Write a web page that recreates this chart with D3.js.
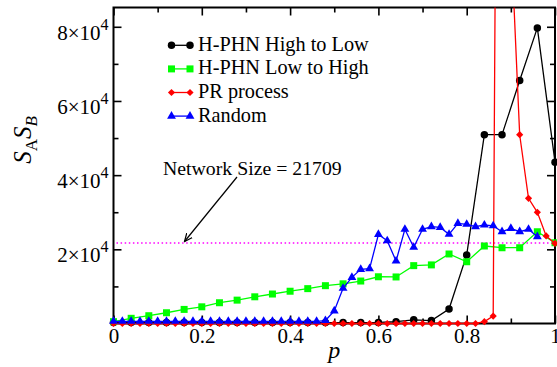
<!DOCTYPE html>
<html>
<head>
<meta charset="utf-8">
<script src="https://cdn.jsdelivr.net/npm/d3@7"></script>
<style>
    body{margin:0;background:#fff;}
    svg{display:block;font-family:"Liberation Serif","Times New Roman",serif;}
    .axis path{display:none;}
    .axis line{stroke:#000;stroke-width:1.6;}
</style>
</head>
<body>
<div id="vizHolder"></div>
<script>
// p values (two sampling grids used by the runs)
const pCoarse = [0,0.04,0.08,0.12,0.16,0.2,0.24,0.28,0.32,0.36,0.4,0.44,0.48,0.52,0.56,0.6,0.64,0.68,0.72,0.76,0.8,0.84,0.88,0.92,0.96,1.0];
const pFine = [0,0.02,0.04,0.06,0.08,0.1,0.12,0.14,0.16,0.18,0.2,0.22,0.24,0.26,0.28,0.3,0.32,0.34,0.36,0.38,0.4,0.42,0.44,0.46,0.48,0.5,
    0.52,0.54,0.56,0.58,0.6,0.62,0.64,0.66,0.68,0.7,0.72,0.74,0.76,0.78,0.8,0.82,0.84,0.86,0.88,0.9,0.92,0.94,0.96,0.98,1.0];

const highToLow = [250,250,250,250,250,250,250,250,250,250,250,250,250,250,250,300,500,1000,800,3900,18500,50900,50900,65500,79700,43500];
const lowToHigh = [500,1400,2100,2900,3800,4500,5600,6300,7200,7950,8700,9400,10200,10700,11450,12600,12550,15600,15800,18750,16650,20900,20450,20450,24750,21800];
const prProcess = [0,0,0,0,0,0,0,0,0,0,0,0,0,0,0,0,0,0,0,0,0,0,0,0,0,0,0,0,0,0,0,0,0,0,0,0,0,0,0,0,0,0,
    500,2000,400000,104800,50900,33750,29970,23600,21600];
const randomRun = [600,600,600,600,600,600,600,600,600,600,600,600,600,600,600,600,600,600,600,600,600,600,600,600,
    800,3400,9500,12450,14600,14770,24000,22300,16850,25400,20550,25400,26100,25900,24050,27000,26750,26100,26550,26350,24750,25650,24750,25400,23400];

const networkSize = 21709;
const xTicks = [0,0.2,0.4,0.6,0.8,1];
const xMinor = [0.1,0.3,0.5,0.7,0.9];
const yTicks = [20000,40000,60000,80000];
const yMinor = [10000,30000,50000,70000];

const series = [
    {name:'H-PHN High to Low', p:pCoarse, v:highToLow, color:'#000000', symbol:'circle'},
    {name:'H-PHN Low to High', p:pCoarse, v:lowToHigh, color:'#00ff00', symbol:'square'},
    {name:'PR process', p:pFine, v:prProcess, color:'#ff0000', symbol:'diamond'},
    {name:'Random', p:pFine.slice(0, randomRun.length), v:randomRun, color:'#0000ff', symbol:'triangle'},
];

let graphicopt = {
    margin: {top: 7.5, right: 2, bottom: 43.5, left: 113.5},
    width: 557,
    height: 367,
    widthG: function () { return this.width - this.margin.left - this.margin.right },
    heightG: function () { return this.height - this.margin.top - this.margin.bottom },
};

const svg = d3.select('#vizHolder').append('svg')
    .attr('width', graphicopt.width)
    .attr('height', graphicopt.height);

const g = svg.append('g')
    .attr('transform', `translate(${graphicopt.margin.left},${graphicopt.margin.top})`);

const xscale = d3.scaleLinear().domain([0, 1]).range([0, graphicopt.widthG()]);
const yscale = d3.scaleLinear().domain([0, 85200]).range([graphicopt.heightG(), 0]);

// clip only at the top so symbols on the edges still show
svg.append('defs').append('clipPath').attr('id', 'clipTop')
    .append('rect')
    .attr('x', -graphicopt.margin.left).attr('y', 0)
    .attr('width', graphicopt.width).attr('height', graphicopt.height);

// reference line for network size
g.append('line')
    .attr('x1', 3).attr('x2', graphicopt.widthG())
    .attr('y1', yscale(networkSize)).attr('y2', yscale(networkSize))
    .attr('stroke', '#ff00ff').attr('stroke-width', 1.5)
    .attr('stroke-dasharray', '1.5,2.6');

// axes
g.append('g').attr('class', 'axis')
    .attr('transform', `translate(0,${graphicopt.heightG()})`)
    .call(d3.axisBottom(xscale).tickValues(xTicks).tickSize(-8).tickPadding(5).tickFormat(d => d3.format('')(d)))
    .selectAll('text').attr('font-size', 21).attr('font-family', 'Liberation Serif').attr('fill', '#000');
g.append('g').attr('class', 'axis')
    .attr('transform', `translate(0,${graphicopt.heightG()})`)
    .call(d3.axisBottom(xscale).tickValues(xMinor).tickSize(-5).tickFormat(''));
g.append('g').attr('class', 'axis')
    .call(d3.axisTop(xscale).tickValues(xTicks).tickSize(-8).tickFormat(''));
g.append('g').attr('class', 'axis')
    .call(d3.axisTop(xscale).tickValues(xMinor).tickSize(-5).tickFormat(''));

const yAxisG = g.append('g').attr('class', 'axis')
    .call(d3.axisLeft(yscale).tickValues(yTicks).tickSize(-8).tickPadding(5));
yAxisG.selectAll('text')
    .attr('font-size', 21).attr('font-family', 'Liberation Serif').attr('fill', '#000')
    .attr('dy', '0.6em')
    .each(function (d) {
        const t = d3.select(this).text('');
        t.append('tspan').text(`${d / 10000}\u00d710`);
        t.append('tspan').attr('font-size', 16).attr('dy', -10).text('4');
    });
g.append('g').attr('class', 'axis')
    .call(d3.axisLeft(yscale).tickValues(yMinor).tickSize(-5).tickFormat(''));
g.append('g').attr('class', 'axis')
    .attr('transform', `translate(${graphicopt.widthG()},0)`)
    .call(d3.axisRight(yscale).tickValues(yTicks).tickSize(-8).tickFormat(''));
g.append('g').attr('class', 'axis')
    .attr('transform', `translate(${graphicopt.widthG()},0)`)
    .call(d3.axisRight(yscale).tickValues(yMinor).tickSize(-5).tickFormat(''));

// frame
g.append('rect')
    .attr('width', graphicopt.widthG()).attr('height', graphicopt.heightG())
    .attr('fill', 'none').attr('stroke', '#000').attr('stroke-width', 2);

function symbolPath(type) {
    switch (type) {
        case 'circle': return d3.symbol(d3.symbolCircle, 44)();
        case 'square': return d3.symbol(d3.symbolSquare, 49)();
        case 'diamond': return 'M0,-3.6L3.6,0L0,3.6L-3.6,0Z';
        default: return d3.symbol(d3.symbolTriangle, 34)();
    }
}

// series
const plot = g.append('g').attr('clip-path', 'url(#clipTop)');
const line = d3.line().x(d => xscale(d[0])).y(d => yscale(d[1]));
series.forEach(s => {
    const pts = s.p.map((p, i) => [p, s.v[i]]);
    const sg = plot.append('g').attr('class', 'series');
    sg.append('path')
        .datum(pts)
        .attr('d', line)
        .attr('fill', 'none').attr('stroke', s.color).attr('stroke-width', 1.3);
    sg.selectAll('path.sym').data(pts)
        .join('path')
        .attr('class', 'sym')
        .attr('transform', d => `translate(${xscale(d[0])},${yscale(d[1])})`)
        .attr('d', symbolPath(s.symbol))
        .attr('fill', s.color);
});

// legend
const legend = g.append('g').attr('transform', 'translate(58,37.8)');
series.forEach((s, i) => {
    const row = legend.append('g').attr('transform', `translate(0,${i * 23.6})`);
    row.append('line').attr('x1', 0).attr('x2', 18.5).attr('stroke', s.color).attr('stroke-width', 1.3);
    row.selectAll('path').data([0, 18.5]).join('path')
        .attr('transform', d => `translate(${d},0)`)
        .attr('d', symbolPath(s.symbol))
        .attr('fill', s.color);
    row.append('text').attr('x', 26.5).attr('y', 5.5).attr('font-size', 20.3).text(s.name);
});

// annotation with arrow
svg.select('defs').append('marker')
    .attr('id', 'arrowHead')
    .attr('viewBox', '0 0 10 10')
    .attr('refX', 9).attr('refY', 5)
    .attr('markerWidth', 9).attr('markerHeight', 9)
    .attr('markerUnits', 'userSpaceOnUse')
    .attr('orient', 'auto')
    .append('path').attr('d', 'M0,1 L9,5 L0,9').attr('fill', 'none').attr('stroke', '#000').attr('stroke-width', 1.4);
svg.append('line')
    .attr('x1', 237).attr('y1', 177).attr('x2', 184.5).attr('y2', 241.5)
    .attr('stroke', '#000').attr('stroke-width', 1.2)
    .attr('marker-end', 'url(#arrowHead)');
svg.append('text').attr('x', 163).attr('y', 175).attr('font-size', 19.8).text(`Network Size = ${networkSize}`);

// axis titles
const yTitle = svg.append('text')
    .attr('transform', 'translate(31,140) rotate(-90)')
    .attr('text-anchor', 'middle').attr('font-size', 25);
yTitle.append('tspan').attr('font-style', 'italic').text('S');
yTitle.append('tspan').attr('font-size', 17).attr('dy', 6).text('A');
yTitle.append('tspan').attr('font-style', 'italic').attr('dy', -6).text('S');
yTitle.append('tspan').attr('font-size', 17).attr('font-style', 'italic').attr('dy', 6).text('B');
svg.append('text')
    .attr('x', graphicopt.margin.left + graphicopt.widthG() / 2).attr('y', 358)
    .attr('text-anchor', 'middle').attr('font-size', 24).attr('font-style', 'italic').text('p');
</script>
</body>
</html>
